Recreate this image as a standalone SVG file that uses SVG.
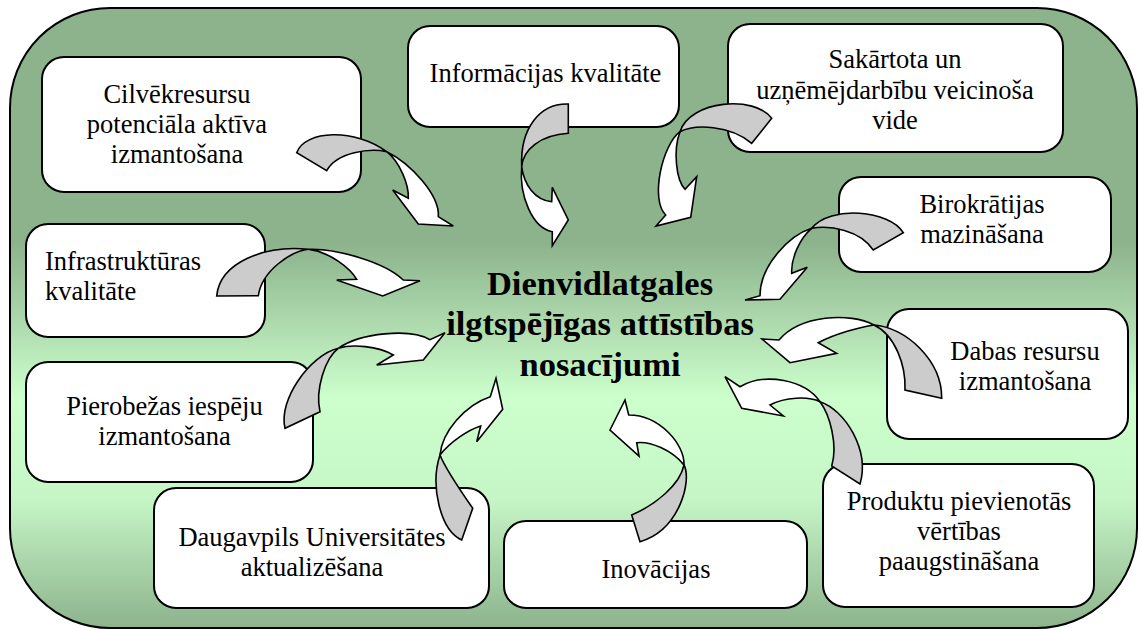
<svg xmlns="http://www.w3.org/2000/svg" width="1139" height="630" viewBox="0 0 1139 630">
<defs>
<linearGradient id="bg" gradientUnits="userSpaceOnUse" x1="0" y1="8" x2="0" y2="628">
<stop offset="0" stop-color="#8db38d"/>
<stop offset="0.38" stop-color="#8db38d"/>
<stop offset="0.63" stop-color="#ccffcc"/>
<stop offset="0.79" stop-color="#c6f6c6"/>
<stop offset="1" stop-color="#8db38d"/>
</linearGradient>
<style>
.box{fill:#ffffff;stroke:#000000;stroke-width:2}
.t{font-family:"Liberation Serif","Times New Roman",serif;font-size:26.5px;fill:#000000;text-anchor:middle}
.tl{text-anchor:start}
.title{font-family:"Liberation Serif","Times New Roman",serif;font-size:34.5px;font-weight:bold;fill:#000000;text-anchor:middle}
.g{fill:#cccccc;stroke:#000000;stroke-width:1.6;stroke-linejoin:miter}
.w{fill:#ffffff;stroke:#000000;stroke-width:1.6;stroke-linejoin:miter}
</style>
</defs>
<rect x="10" y="8" width="1127" height="620" rx="100" ry="100" fill="url(#bg)" stroke="#000000" stroke-width="2"/>

<g id="center">
<text class="title" x="600" y="295">Dienvidlatgales</text>
<text class="title" x="600" y="335">ilgtspējīgas attīstības</text>
<text class="title" x="600" y="376">nosacījumi</text>
</g>

<g id="n-cilvekresursi">
<rect class="box" x="42" y="57" width="319" height="135" rx="22"/>
<text class="t" x="177" y="103">Cilvēkresursu</text>
<text class="t" x="177" y="133">potenciāla aktīva</text>
<text class="t" x="177" y="163">izmantošana</text>
</g>
<g id="n-infrastruktura">
<rect class="box" x="26" y="224" width="239" height="113" rx="22"/>
<text class="t tl" x="45" y="270">Infrastruktūras</text>
<text class="t tl" x="45" y="300">kvalitāte</text>
</g>
<g id="n-informacija">
<rect class="box" x="408" y="26" width="271" height="101" rx="22"/>
<text class="t" x="545.5" y="82">Informācijas kvalitāte</text>
</g>
<g id="n-vide">
<rect class="box" x="728" y="24" width="335" height="128" rx="22"/>
<text class="t" x="895" y="68">Sakārtota un</text>
<text class="t" x="895" y="99">uzņēmējdarbību veicinoša</text>
<text class="t" x="895" y="129">vide</text>
</g>
<g id="n-birokratija">
<rect class="box" x="839" y="177" width="272" height="95" rx="22"/>
<text class="t" x="982" y="213">Birokrātijas</text>
<text class="t" x="982" y="243">mazināšana</text>
</g>
<g id="n-dabas">
<rect class="box" x="887" y="309" width="241" height="130" rx="22"/>
<text class="t" x="1025" y="360">Dabas resursu</text>
<text class="t" x="1025" y="390">izmantošana</text>
</g>
<g id="n-produktu">
<rect class="box" x="823" y="464" width="271" height="143" rx="22"/>
<text class="t" x="959" y="510">Produktu pievienotās</text>
<text class="t" x="959" y="540">vērtības</text>
<text class="t" x="959" y="570">paaugstināšana</text>
</g>
<g id="n-inovacijas">
<rect class="box" x="504" y="521" width="303" height="87" rx="22"/>
<text class="t" x="656" y="578">Inovācijas</text>
</g>
<g id="n-universitate">
<rect class="box" x="154" y="488" width="335" height="120" rx="22"/>
<text class="t" x="312" y="546">Daugavpils Universitātes</text>
<text class="t" x="312" y="576">aktualizēšana</text>
</g>
<g id="n-pierobeza">
<rect class="box" x="26" y="362" width="287" height="120" rx="22"/>
<text class="t" x="164.5" y="415">Pierobežas iespēju</text>
<text class="t" x="164.5" y="445">izmantošana</text>
</g>

<g id="connectors">
<g id="a-cilvekresursi">
<path class="g" d="M296.7 152.7 C305 130 355 128 386.7 151.7 C370 148 337 152 326.7 170.7 Z"/>
<path class="w" d="M386.7 151.7 C410 163 440 195 438.3 216.7 L453.3 226 L418.3 224 L392.7 190 L408.3 198.3 C409 185 400 162 386.7 151.7 Z"/>
</g>
<g id="a-infrastruktura">
<path class="g" d="M216.7 296 C220 262 265 245 308.3 249.3 C292 251 262 270 258.3 295.7 Z"/>
<path class="w" d="M308.3 249.3 C335 248 385 262 403.3 280 L420 280.7 L382.7 296 L336.7 280 L356.7 279.3 C350 268 330 252 308.3 249.3 Z"/>
</g>
<g id="a-informacija">
<path class="g" d="M568.3 104 C540 103 520 128 521.7 166.7 C523 150 540 135 568.3 133.3 Z"/>
<path class="w" d="M521.7 166.7 C519 195 532 228 552.3 231.7 L552.3 245.7 L568.3 220 L552.3 187.3 L551.7 201.7 C535 200 524 185 521.7 166.7 Z"/>
</g>
<g id="a-vide">
<path class="g" d="M771.7 118.3 C755 95 690 100 680 131.7 C695 124 730 125 751.7 143.3 Z"/>
<path class="w" d="M680 131.7 C662 145 650 200 665.7 215 L656 226 L690.7 217.3 L696.7 176.7 L685 189.3 C676 180 673 150 680 131.7 Z"/>
</g>
<g id="a-birokratija">
<path class="g" d="M903.3 232.7 C890 210 830 205 811.7 228.3 C830 225 860 230 873.3 250 Z"/>
<path class="w" d="M811.7 228.3 C790 235 760 265 760 295.7 L745 300 L780 299.3 L807.3 267.3 L791.7 273.3 C791 258 800 238 811.7 228.3 Z"/>
</g>
<g id="a-dabas">
<path class="g" d="M874 325 C905 327 942 360 941.7 398.3 L905 390 C906 365 895 335 874 325 Z"/>
<path class="w" d="M874 325 C850 312 800 315 779 340 L762 339 L790 362.7 L836.7 353.3 L818.3 342.7 C835 334 860 327 874 325 Z"/>
</g>
<g id="a-produktu">
<path class="g" d="M820 401.7 C845 410 870 450 860 484 L831.7 466 C838 445 830 415 820 401.7 Z"/>
<path class="w" d="M820 401.7 C805 380 765 372 740 386.7 L725 376.7 L741.7 408.3 L783.3 416 L770 405 C785 397 808 396 820 401.7 Z"/>
</g>
<g id="a-inovacijas">
<path class="g" d="M684 465 C692 480 680 530 640 541.7 L631.7 515 C655 505 680 485 684 465 Z"/>
<path class="w" d="M684 465 C685 445 660 415 628.7 415 L625 400 L610 430 L639 456 L636.7 442.7 C650 441 672 450 684 465 Z"/>
</g>
<g id="a-universitate">
<path class="g" d="M461.7 540 C440 530 430 485 440 455 C445 468 460 490 472.7 508.3 Z"/>
<path class="w" d="M440 455 C442 432 465 405 490.3 396.7 L496 378.3 L502.7 409.3 L476.7 441.7 L480.7 426 C468 430 450 442 440 455 Z"/>
</g>
<g id="a-pierobeza">
<path class="g" d="M285 428.3 C278 400 310 355 338.3 348.3 C325 358 315 390 320 411.7 Z"/>
<path class="w" d="M338.3 348.3 C360 333 410 328 430 339.7 L445 332.7 L423.3 360 L376.7 365 L393.3 355 C378 346 352 344 338.3 348.3 Z"/>
</g>
</g>
</svg>
